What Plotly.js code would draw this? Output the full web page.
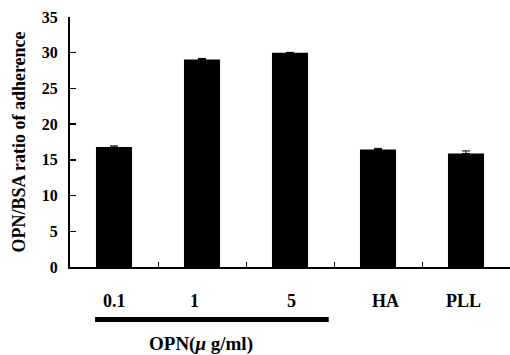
<!DOCTYPE html>
<html><head><meta charset="utf-8">
<script src="https://cdn.plot.ly/plotly-3.0.1.min.js"></script>
<style>html,body{margin:0;padding:0;background:#fff}#c{width:510px;height:355px}</style>
</head><body><div id="c"></div>
<script>
const categories = ["0.1", "1", "5", "HA", "PLL"];
const values = [16.8, 29.05, 30.0, 16.45, 15.9];
const errors = [0.15, 0.15, 0.05, 0.15, 0.35];
const yTicks = [0, 5, 10, 15, 20, 25, 30, 35];
const labelShift = [0, -8, 1, 7, -3];
const groupLabel = "OPN(<i>μ</i> g/ml)";
const yTitle = "OPN/BSA ratio of adherence";

const xs = categories.map((c, i) => i);
const font = {family: "Liberation Serif, Times New Roman, serif", color: "#000", weight: "bold"};

const trace = {
  type: "bar", x: xs, y: values, width: 0.41,
  marker: {color: "#000"},
  error_y: {type: "data", array: errors, arrayminus: categories.map(() => 0), symmetric: false,
            color: "#000", thickness: 1, width: 4},
  hoverinfo: "none"
};

const annotations = categories.map((c, i) => ({
  x: i, y: 0, xref: "x", yref: "paper", yshift: -34, xshift: labelShift[i],
  yanchor: "middle",
  text: "<b>" + c + "</b>", showarrow: false,
  font: Object.assign({size: 18}, font)
}));
annotations.push({
  x: 1.0, y: 0, xref: "x", yref: "paper", yshift: -77, xshift: -1,
  yanchor: "middle",
  text: "<b>" + groupLabel + "</b>", showarrow: false,
  font: Object.assign({size: 19}, font)
});

const layout = {
  width: 510, height: 355,
  margin: {l: 70, r: 0, t: 17, b: 88},
  paper_bgcolor: "#fff", plot_bgcolor: "#fff",
  showlegend: false,
  font: Object.assign({size: 13}, font),
  xaxis: {
    range: [-0.5, 4.5], tickvals: [0.5, 1.5, 2.5, 3.5, 4.5], ticktext: ["", "", "", "", ""],
    ticks: "inside", ticklen: 5, tickwidth: 1, tickcolor: "#000",
    showline: true, linecolor: "#000", linewidth: 2, showgrid: false, zeroline: false,
    fixedrange: true
  },
  yaxis: {
    range: [0, 35], tickvals: yTicks, ticktext: yTicks.map(v => "<b>" + v + "</b>"),
    ticks: "inside", ticklen: 6, tickwidth: 1.5, tickcolor: "#000",
    showline: true, linecolor: "#000", linewidth: 2, showgrid: false, zeroline: false,
    tickfont: Object.assign({size: 16}, font),
    ticklabelstandoff: 7,
    title: {text: "<b>" + yTitle + "</b>", font: Object.assign({size: 18}, font), standoff: 11},
    fixedrange: true
  },
  shapes: [{
    type: "line", xref: "x", yref: "paper", x0: -0.215, x1: 2.44, y0: -0.21, y1: -0.21,
    line: {color: "#000", width: 5}
  }],
  annotations: annotations
};

Plotly.newPlot("c", [trace], layout, {staticPlot: true, displayModeBar: false});
</script>
</body></html>
